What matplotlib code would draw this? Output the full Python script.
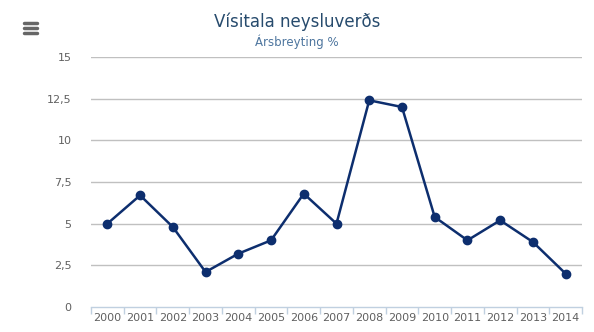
import matplotlib
matplotlib.use("Agg")
import matplotlib.pyplot as plt
from matplotlib.lines import Line2D

years = ["2000", "2001", "2002", "2003", "2004", "2005", "2006", "2007",
         "2008", "2009", "2010", "2011", "2012", "2013", "2014"]
values = [5.0, 6.7, 4.8, 2.1, 3.2, 4.0, 6.8, 5.0, 12.4, 12.0, 5.4, 4.0, 5.2, 3.9, 2.0]
yticks = [0, 2.5, 5, 7.5, 10, 12.5, 15]
ytick_labels = ["0", "2,5", "5", "7,5", "10", "12,5", "15"]

plt.rcParams['font.family'] = ['DejaVu Sans']

fig = plt.figure(figsize=(5.94, 3.32), dpi=100)
ax = fig.add_axes([91/594, 25/332, (582-91)/594, (307-57)/332])

x = list(range(len(years)))
ax.plot(x, values, color="#0d2e6e", lw=1.8, marker="o", ms=6,
        markerfacecolor="#0d2e6e", markeredgecolor="#0d2e6e", zorder=3)

ax.set_xlim(-0.5, len(years) - 0.5)
ax.set_ylim(0, 15)
ax.set_yticks(yticks)
ax.set_yticklabels(ytick_labels)
for yt in yticks[1:]:
    ax.axhline(yt, color="#c0c0c0", lw=1, zorder=1)

ax.set_xticks(x)
ax.set_xticklabels(years)
ax.set_xticks([i - 0.5 for i in range(len(years) + 1)], minor=True)
ax.tick_params(axis="x", which="major", length=0, pad=4, labelsize=8, labelcolor="#606060")
ax.tick_params(axis="x", which="minor", length=5, color="#c0d0e0", width=1)
ax.tick_params(axis="y", length=0, pad=14, labelsize=8, labelcolor="#606060")

for s in ["top", "right", "left"]:
    ax.spines[s].set_visible(False)
ax.spines["bottom"].set_color("#c0d0e0")
ax.spines["bottom"].set_linewidth(1)

fig.text(0.5, 1 - 22/332, "Vísitala neysluverðs", ha="center", va="center",
         fontsize=12, color="#274b6d")
fig.text(0.5, 1 - 42/332, "Ársbreyting %", ha="center", va="center",
         fontsize=8.5, color="#4d759e")

# hamburger menu icon
for yy in [23, 28, 33]:
    fig.add_artist(Line2D([24/594, 37/594], [1 - yy/332, 1 - yy/332],
                          color="#666666", lw=2.5, solid_capstyle="round"))

fig.savefig("out.png", dpi=100)
